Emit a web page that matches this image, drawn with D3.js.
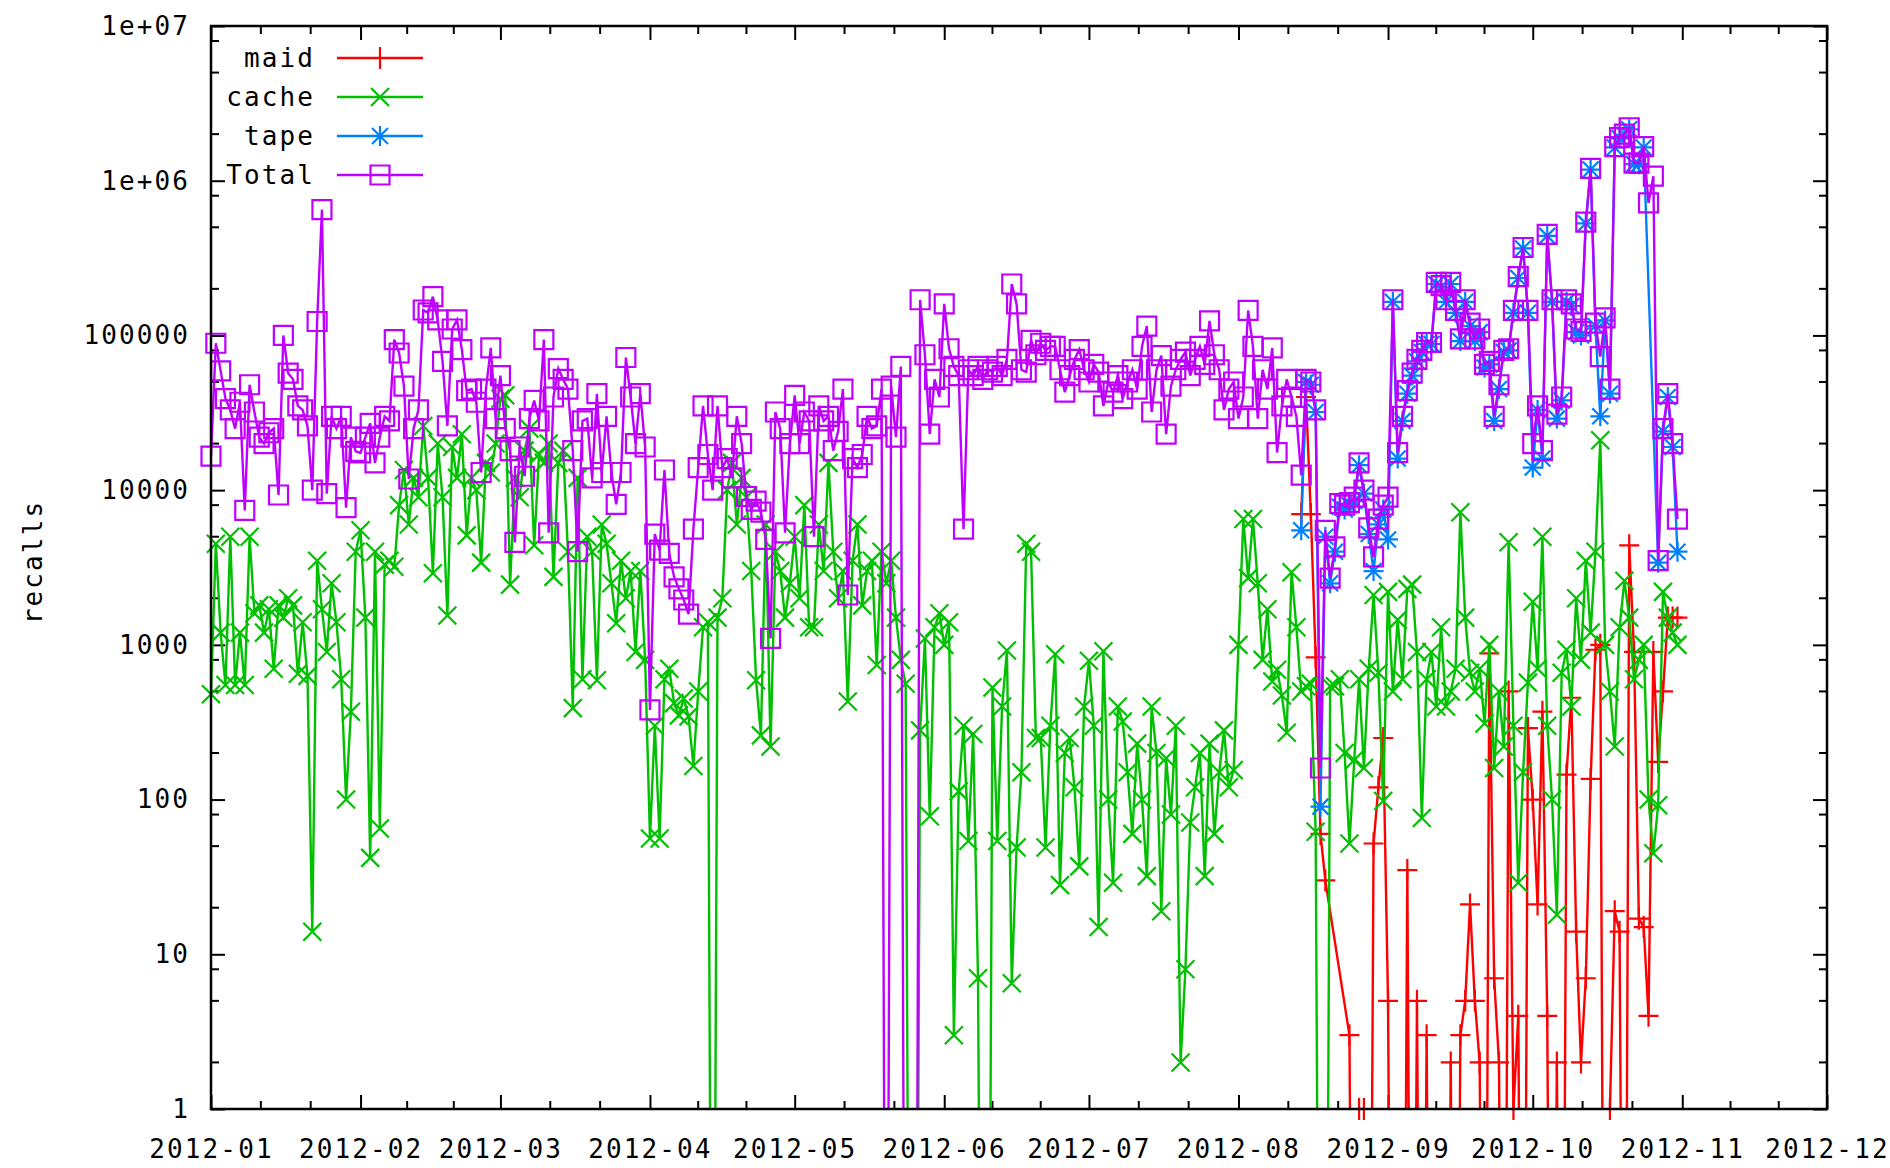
<!DOCTYPE html>
<html><head><meta charset="utf-8">
<script src="https://cdn.jsdelivr.net/npm/d3@7"></script>
<style>
html,body{margin:0;padding:0;background:#fff;}
svg{display:block;}
text{font-family:"DejaVu Sans Mono",monospace;font-size:26px;fill:#000;letter-spacing:2.1px;}
</style></head><body>
<svg id="chart" width="1890" height="1168"></svg>
<script>
// ---------- data ----------
const startDate = "2012-01-01";      // first day of cache / Total
const subStart  = "2012-08-14";      // first day of maid / tape
const seriesNames  = ["maid", "cache", "tape", "Total"];
const seriesColors = ["#ff0000", "#00c000", "#0080ff", "#c000ff"];
const xTickLabels = ["2012-01","2012-02","2012-03","2012-04","2012-05","2012-06",
                     "2012-07","2012-08","2012-09","2012-10","2012-11","2012-12"];
const yTickValues = [1, 10, 100, 1000, 10000, 100000, 1000000, 10000000];
const yTickLabels = ["1","10","100","1000","10000","100000","1e+06","1e+07"];
const yLabel = "recalls";

const total = [
 // Jan
 16600, 89000, 59000, 39000, 33000, 25000, 37000, 7400, 48000, 32000,
 22000, 20000, 23500, 25000, 9300, 100000, 57000, 52000, 35000, 33000,
 26000, 10000, 123000, 650000, 9500, 30000, 25000, 30000, 7700, 22000,
 17800,
 // Feb
 17400, 22000, 27000, 15000, 22000, 30000, 28000, 94000, 77000, 47000,
 11800, 25000, 33000, 146000, 140000, 178000, 126000, 68000, 26000, 110000,
 126000, 81000, 44000, 45000, 37000, 13000, 45000, 83000, 29000,
 // Mar
 55000, 25000, 18000, 4600, 19000, 12300, 29000, 38000, 28000, 94000,
 5300, 40000, 61000, 52000, 45000, 18000, 4000, 28000, 29000, 12000,
 42000, 13000, 30000, 13000, 8100, 13000, 72000, 40000, 20000, 42000,
 19000,
 // Apr
 380, 5200, 4100, 13500, 3900, 2750, 2300, 1950, 1580, 5600,
 14000, 35000, 17000, 10000, 35000, 14000, 16000, 12000, 30000, 20000,
 9100, 7500, 8500, 7200, 4800, 1100, 32000, 25000, 5300, 20000,
 // May
 41000, 20000, 32000, 28000, 5000, 35000, 28000, 30000, 18000, 24000,
 45000, 2100, 16000, 14000, 17000, 30000, 25000, 26000, 45000, 0,
 47000, 22000, 63000, 0, 0, 0, 170000, 75000, 23000, 52000,
 40000,
 // Jun
 160000, 82000, 63000, 55000, 5600, 60000, 55000, 63000, 52000, 60000,
 58000, 63000, 55000, 70000, 215000, 160000, 60000, 58000, 93000, 75000,
 89000, 80000, 85000, 85000, 60000, 43000, 55000, 70000, 81000, 60000,
 // Jul
 50000, 65000, 58000, 35000, 50000, 43000, 55000, 39000, 50000, 60000,
 45000, 85000, 115000, 32000, 60000, 74000, 23000, 47000, 60000, 70000,
 78000, 55000, 70000, 85000, 65000, 124000, 75000, 60000, 33000, 45000,
 50000,
 // Aug
 29000, 40000, 145000, 85000, 29000, 60000, 45000, 83000, 17500, 35000,
 52000, 40000, 30000, 12500, 52000, 50000, 33000, 160, 5500, 2700,
 4300, 8200, 8000, 8300, 9000, 15000, 10000, 5700, 3700, 6500,
 8000,
 // Sep
 9000, 170000, 17500, 30000, 44000, 57000, 70000, 80000, 90000, 90000,
 220000, 210000, 170000, 220000, 145000, 95000, 170000, 120000, 95000, 110000,
 65000, 68000, 30000, 48000, 80000, 82000, 145000, 240000, 370000, 145000,
 // Oct
 20000, 35000, 18000, 450000, 170000, 31000, 40000, 170000, 160000, 110000,
 106000, 540000, 1200000, 120000, 73000, 130000, 45000, 1660000, 1900000, 2000000,
 2200000, 1300000, 1300000, 1660000, 720000, 1070000, 3500, 25000, 42000, 20000,
 6500
];

const cache = [
 // Jan
 480, 4500, 1200, 550, 5000, 550, 1200, 550, 5000, 1600,
 1800, 1200, 1700, 700, 1800, 1500, 2000, 1800, 650, 1400,
 630, 14, 3500, 1700, 900, 2500, 1400, 600, 100, 370,
 4000,
 // Feb
 5500, 1500, 42, 4000, 65, 3300, 3500, 3200, 8000, 13500,
 6000, 12000, 9000, 26000, 12000, 2900, 20000, 9000, 1550, 19000,
 12000, 23000, 5100, 12000, 10000, 3400, 15000, 13000, 20000,
 // Mar
 39000, 41000, 2450, 12000, 9000, 18000, 25000, 4400, 17000, 15000,
 20000, 2750, 15000, 18000, 4000, 390, 12000, 600, 5000, 4000,
 590, 6000, 4500, 2500, 1380, 3500, 2000, 3000, 900, 3000,
 800,
 // Apr
 56, 300, 56, 600, 700, 420, 350, 450, 345, 165,
 500, 1300, 1400, 0, 1500, 2000, 10000, 15000, 6000, 12000,
 9000, 3000, 590, 260, 6000, 220, 4000, 3000, 1500, 2500,
 // May
 5000, 2000, 8000, 1300, 1300, 6000, 3000, 15000, 4000, 2000,
 3000, 430, 3500, 6000, 1800, 3000, 3500, 740, 4000, 2500,
 3500, 1500, 800, 560, 0, 0, 280, 1100, 78, 1300,
 1600,
 // Jun
 1000, 1400, 3, 113, 300, 54, 265, 7, 0, 0,
 530, 54, 400, 920, 6.5, 49, 150, 4500, 4000, 250,
 250, 49, 300, 870, 28, 200, 250, 120, 37, 400,
 // Jul
 790, 300, 15, 910, 100, 29, 400, 320, 150, 60,
 230, 100, 32, 400, 200, 19, 185, 80, 300, 2,
 8, 71, 120, 200, 32, 230, 60, 150, 280, 120,
 155,
 // Aug
 1000, 6500, 2700, 6500, 2500, 800, 1700, 580, 690, 470,
 270, 2950, 1300, 500, 540, 560, 62, 0, 0, 540,
 540, 600, 200, 52, 180, 600, 160, 700, 2100, 660,
 98,
 // Sep
 2200, 500, 1450, 600, 2300, 2450, 900, 76, 600, 900,
 400, 1300, 400, 500, 700, 7200, 1500, 660, 500, 700,
 310, 1000, 160, 500, 220, 4600, 300, 29, 150, 570,
 // Oct
 1900, 700, 5000, 300, 100, 18, 660, 930, 400, 2000,
 800, 3500, 1200, 4000, 21000, 1000, 500, 220, 1300, 2600,
 1500, 600, 800, 1000, 100, 45, 92, 2200, 1500, 1200,
 1000
];

const tape = [
 // Aug 14 - Aug 31
 5500, 50000, 48000, 32000, 90, 5000, 2500, 4000, 7800, 7500,
 8000, 8500, 14500, 9500, 5200, 3000, 6000, 7500,
 // Sep
 4800, 165000, 16000, 28000, 42000, 55000, 68000, 78000, 88000, 88000,
 215000, 205000, 165000, 215000, 140000, 92000, 165000, 115000, 92000, 105000,
 62000, 65000, 28000, 45000, 78000, 80000, 140000, 235000, 365000, 140000,
 // Oct
 14000, 33000, 16000, 440000, 165000, 29000, 38000, 165000, 155000, 105000,
 100000, 530000, 1180000, 115000, 30000, 125000, 42000, 1640000, 1880000, 1980000,
 2150000, 1280000, 1280000, 1640000, null, null, 3400, 24000, 40000, 19000,
 4000
];

const maid = [
 // Aug 14 - Aug 31
 7000, 40000, 7000, 830, 60, 30, null, null, null, null,
 3, 0, 1, 1, 0, 52, 120, 250,
 // Sep
 5, 0, 0, 0, 35, 0, 5, 0, 3, 0,
 0, 0, 0, 2, 0, 3, 5, 21, 5, 2,
 0, 880, 7, 2, 0, 500, 1, 4, 0, 290,
 // Oct
 100, 21, 370, 4, 0, 2, 0, 145, 455, 14,
 2, 7, 136, 930, 1000, 0, 1, 19, 14, 0,
 4400, 900, 17, 15, 4, 900, 175, 500, 1500, 1500,
 1500
];

// ---------- drawing ----------
const L = 211, R = 1827, T = 26, B = 1109;
const svg = d3.select("#chart");
const parse = d3.utcParse("%Y-%m-%d");
const x = d3.scaleUtc().domain([parse("2012-01-01"), parse("2012-12-01")]).range([L, R]);
const y = d3.scaleLog().domain([1, 1e7]).range([B, T]);
const FLOOR = 1e-4;

function toPts(arr, start) {
  const s = parse(start);
  return arr.map((v, i) => ({date: d3.utcDay.offset(s, i), v}))
            .filter(p => p.v !== null);
}
const series = [
  {name: seriesNames[0], color: seriesColors[0], pts: toPts(maid, subStart),  mk: "plus"},
  {name: seriesNames[1], color: seriesColors[1], pts: toPts(cache, startDate), mk: "cross"},
  {name: seriesNames[2], color: seriesColors[2], pts: toPts(tape, subStart),  mk: "star"},
  {name: seriesNames[3], color: seriesColors[3], pts: toPts(total, startDate), mk: "box"}
];
const markerPath = {
  plus:  "M-10,0H10M0,-11V11",
  cross: "M-9,-9L9,9M-9,9L9,-9",
  star:  "M-10,0H10M0,-10V10M-8,-8L8,8M-8,8L8,-8",
  box:   "M-9.5,-9.5H9.5V9.5H-9.5Z"
};

svg.append("defs").append("clipPath").attr("id", "plotclip")
  .append("rect").attr("x", L).attr("y", T).attr("width", R - L).attr("height", B - T);

// ticks (inward, mirrored)
const months = x.ticks(d3.utcMonth.every(1));
const xAxisB = d3.axisBottom(x).tickValues(months).tickSize(-14)
  .tickFormat((d, i) => xTickLabels[i]);
const gxb = svg.append("g").attr("transform", `translate(0,${B})`).call(xAxisB);
gxb.select(".domain").remove();
gxb.selectAll("text").attr("y", 40).attr("dy", "0.35em");
const gxt = svg.append("g").attr("transform", `translate(0,${T})`)
  .call(d3.axisTop(x).tickValues(months).tickSize(-14).tickFormat(""));
gxt.select(".domain").remove();

const yAxisL = d3.axisLeft(y).tickValues(yTickValues).tickSize(-14).tickPadding(21)
  .tickFormat((d, i) => yTickLabels[i]);
const gyl = svg.append("g").attr("transform", `translate(${L},0)`).call(yAxisL);
gyl.select(".domain").remove();
const gyr = svg.append("g").attr("transform", `translate(${R},0)`)
  .call(d3.axisRight(y).tickValues(yTickValues).tickSize(-14).tickFormat(""));
gyr.select(".domain").remove();
svg.selectAll(".tick line").attr("stroke", "#000").attr("stroke-width", 2);
svg.selectAll("g").attr("font-size", null).attr("font-family", null);

// minor ticks
const minor = svg.append("g").attr("stroke", "#000").attr("stroke-width", 2);
for (let i = 0; i < months.length - 1; i++) {
  const a = x(months[i]), b = x(months[i + 1]);
  [1, 2].forEach(k => {
    const px = a + (b - a) * k / 3;
    minor.append("line").attr("x1", px).attr("x2", px).attr("y1", B).attr("y2", B - 8);
    minor.append("line").attr("x1", px).attr("x2", px).attr("y1", T).attr("y2", T + 8);
  });
}
for (let k = 0; k < 7; k++) {
  [2, 5, 8].forEach(m => {
    const py = y(m * Math.pow(10, k));
    minor.append("line").attr("x1", L).attr("x2", L + 8).attr("y1", py).attr("y2", py);
    minor.append("line").attr("x1", R).attr("x2", R - 8).attr("y1", py).attr("y2", py);
  });
}

// series
const line = d3.line().x(p => x(p.date)).y(p => y(Math.max(p.v, FLOOR)));
series.forEach(s => {
  const g = svg.append("g");
  g.append("path").datum(s.pts).attr("d", line)
    .attr("fill", "none").attr("stroke", s.color).attr("stroke-width", 2.4)
    .attr("stroke-linejoin", "miter").attr("clip-path", "url(#plotclip)");
  g.selectAll("path.mk").data(s.pts.filter(p => p.v >= 1 && p.v <= 1e7)).join("path")
    .attr("class", "mk")
    .attr("transform", p => `translate(${x(p.date)},${y(p.v)})`)
    .attr("d", markerPath[s.mk])
    .attr("fill", "none").attr("stroke", s.color).attr("stroke-width", 2.2);
});

// frame
svg.append("rect").attr("x", L).attr("y", T).attr("width", R - L).attr("height", B - T)
  .attr("fill", "none").attr("stroke", "#000").attr("stroke-width", 2.5);

// y label
svg.append("text").attr("transform", "translate(33,562) rotate(-90)")
  .attr("text-anchor", "middle").attr("dy", "0.35em").text(yLabel);

// legend
const leg = svg.append("g");
series.forEach((s, i) => {
  const cy = 58 + i * 39;
  leg.append("text").attr("x", 315).attr("y", cy).attr("dy", "0.35em")
    .attr("text-anchor", "end").text(s.name);
  leg.append("line").attr("x1", 337).attr("x2", 423).attr("y1", cy).attr("y2", cy)
    .attr("stroke", s.color).attr("stroke-width", 2.4);
  leg.append("path").attr("transform", `translate(380,${cy})`).attr("d", markerPath[s.mk])
    .attr("fill", "none").attr("stroke", s.color).attr("stroke-width", 2.2);
});
</script>
</body></html>
